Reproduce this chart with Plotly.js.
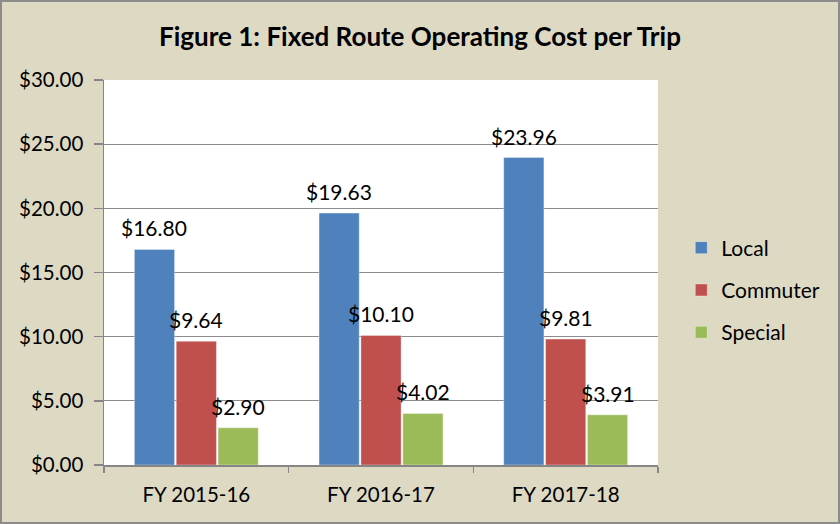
<!DOCTYPE html>
<html>
<head>
<meta charset="utf-8">
<script src="https://cdn.plot.ly/plotly-3.0.1.min.js"></script>
<style>
  html, body { margin: 0; padding: 0; background: #DDD9C3; }
  #wrap { position: relative; width: 840px; height: 524px; }
  #chart { width: 840px; height: 524px; }
  #frame { position: absolute; left: 0; top: 0; width: 836px; height: 520px; border: 2px solid #8C8C8C; pointer-events: none; }
</style>
</head>
<body>
<div id="wrap"><div id="chart"></div><div id="frame"></div></div>
<script>
const categories = ["FY 2015-16", "FY 2016-17", "FY 2017-18"];
const seriesNames = ["Local", "Commuter", "Special"];
const localCost = [16.80, 19.63, 23.96];
const commuterCost = [9.64, 10.10, 9.81];
const specialCost = [2.90, 4.02, 3.91];
const yTickValues = [0, 5, 10, 15, 20, 25, 30];

const seriesValues = [localCost, commuterCost, specialCost];
const colors = ["#4F81BD", "#C0504D", "#9BBB59"];
const FONT = "Lato, 'Open Sans', sans-serif";

const traces = seriesValues.map((vals, i) => ({
  type: "bar",
  name: seriesNames[i],
  x: categories,
  y: vals,
  legendgroup: "g" + i,
  marker: { color: colors[i], line: { color: "rgba(255,255,255,0.7)", width: 0.5 } },
  hoverinfo: "skip"
}));

const annotations = [];
seriesValues.forEach((vals, i) => {
  vals.forEach((v, j) => {
    annotations.push({
      x: categories[j], y: v, xref: "x", yref: "y",
      text: "$" + v.toFixed(2),
      showarrow: false,
      xshift: (i - 1) * 42,
      yshift: 7,
      yanchor: "bottom",
      font: { family: FONT, size: 21, color: "#000" }
    });
  });
});

const layout = {
  width: 840, height: 524,
  paper_bgcolor: "#DDD9C3",
  plot_bgcolor: "#FFFFFF",
  margin: { l: 104, r: 182, t: 80, b: 59 },
  barmode: "group",
  bargap: 0.32,
  bargroupgap: 0.04,
  font: { family: FONT, size: 21, color: "#000" },
  title: {
    text: "<b>Figure 1: Fixed Route Operating Cost per Trip</b>",
    x: 0.5, xref: "container", xanchor: "center",
    y: 1 - 37 / 524, yref: "container", yanchor: "middle",
    font: { family: FONT, size: 26, color: "#000" }
  },
  xaxis: {
    type: "category",
    showline: true, linecolor: "#868686", linewidth: 1.5,
    ticks: "outside", tickson: "boundaries", ticklen: 6, tickcolor: "#868686", tickwidth: 1.5,
    showgrid: false,
    ticklabelstandoff: 11,
    tickfont: { family: FONT, size: 20.5, color: "#000" }
  },
  yaxis: {
    range: [0, 30],
    tickvals: yTickValues,
    tickformat: "$.2f",
    showline: true, linecolor: "#868686", linewidth: 1.5,
    ticks: "outside", ticklen: 9, tickcolor: "#868686", tickwidth: 1.5,
    showgrid: true, gridcolor: "#8C8C8C", gridwidth: 1,
    zeroline: false,
    ticklabelstandoff: 6,
    tickfont: { family: FONT, size: 20.5, color: "#000" }
  },
  legend: {
    x: 1.042, xanchor: "left",
    y: 0.4545, yanchor: "middle",
    traceorder: "grouped",
    tracegroupgap: 12,
    itemwidth: 30,
    bgcolor: "rgba(0,0,0,0)",
    font: { family: FONT, size: 21, color: "#000" }
  },
  annotations: annotations,
  showlegend: true
};

Plotly.newPlot("chart", traces, layout, { displayModeBar: false, staticPlot: true });
</script>
</body>
</html>
